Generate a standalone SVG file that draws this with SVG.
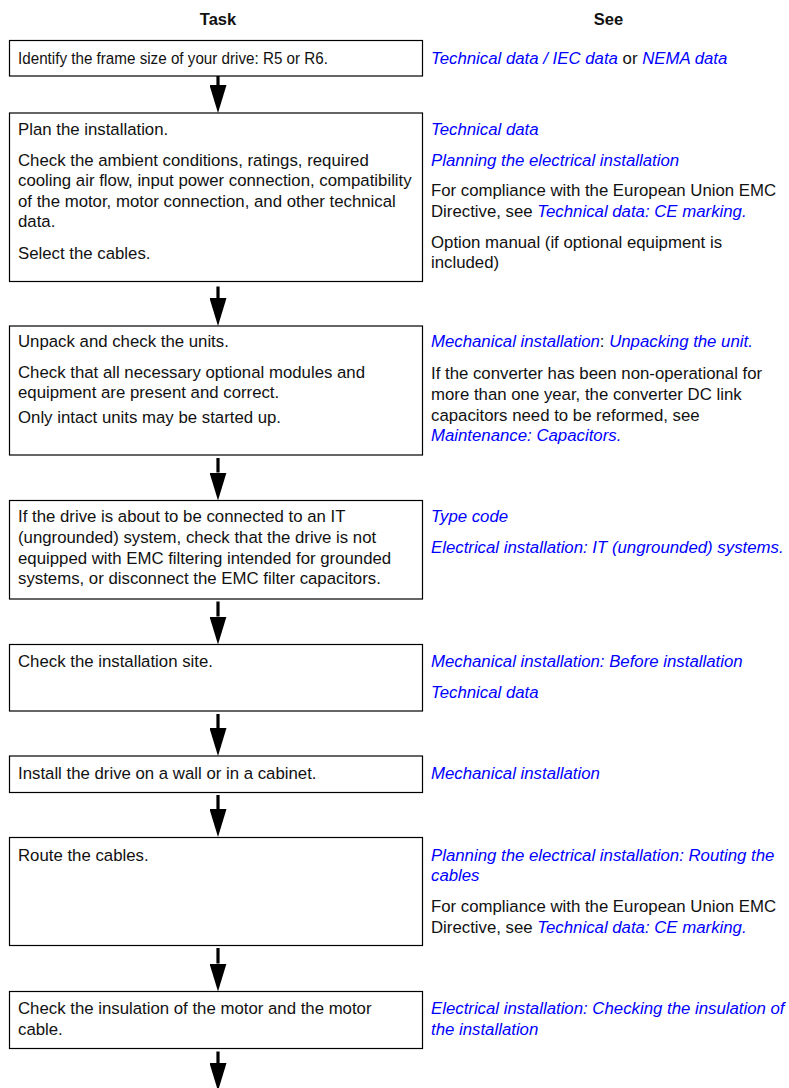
<svg xmlns="http://www.w3.org/2000/svg" width="789" height="1088" viewBox="0 0 789 1088">
<style>
text{font-family:"Liberation Sans",Arial,sans-serif;font-size:16.8px;fill:#111}
.h{font-weight:bold;font-size:16.5px;text-anchor:middle}
.l{fill:#0000ff;font-style:italic}
.box{fill:#fff;stroke:#000;stroke-width:1.2}
.arr{stroke:#000;stroke-width:3.2;fill:none;marker-end:url(#ah)}
</style>
<defs>
<marker id="ah" markerUnits="userSpaceOnUse" viewBox="0 0 28 17" markerWidth="28" markerHeight="17" refX="0" refY="8.5" orient="auto">
<path d="M0,0 L28,8.5 L0,17 z" fill="#000"/>
</marker>
</defs>
<rect width="789" height="1088" fill="#fff"/>
<g id="headers">
<text class="h" x="218" y="25">Task</text>
<text class="h" x="608.5" y="25">See</text>
</g>
<g id="connectors">
<line class="arr" x1="218" y1="76" x2="218" y2="85"/>
<line class="arr" x1="218" y1="286.5" x2="218" y2="298"/>
<line class="arr" x1="218" y1="458" x2="218" y2="472.5"/>
<line class="arr" x1="218" y1="601.5" x2="218" y2="616.5"/>
<line class="arr" x1="218" y1="714" x2="218" y2="728"/>
<line class="arr" x1="218" y1="795" x2="218" y2="809"/>
<line class="arr" x1="218" y1="948" x2="218" y2="963.5"/>
<line class="arr" x1="218" y1="1051.5" x2="218" y2="1063"/>
</g>
<g id="step1">
<rect class="box" x="9.5" y="40.5" width="413" height="35.5"/>
<text x="18" y="64" textLength="310" lengthAdjust="spacingAndGlyphs">Identify the frame size of your drive: R5 or R6.</text>
<text x="431" y="63.5"><tspan class="l">Technical data / IEC data</tspan> or <tspan class="l">NEMA data</tspan></text>
</g>
<g id="step2">
<rect class="box" x="9.5" y="113" width="413" height="168.5"/>
<text x="18" y="134.5">Plan the installation.</text>
<text x="18" y="165.5">Check the ambient conditions, ratings, required</text>
<text x="18" y="186">cooling air flow, input power connection, compatibility</text>
<text x="18" y="206.5">of the motor, motor connection, and other technical</text>
<text x="18" y="227">data.</text>
<text x="18" y="259">Select the cables.</text>
<text class="l" x="431" y="134.5">Technical data</text>
<text class="l" x="431" y="165.5">Planning the electrical installation</text>
<text x="431" y="196">For compliance with the European Union EMC</text>
<text x="431" y="216.5">Directive, see <tspan class="l">Technical data: CE marking.</tspan></text>
<text x="431" y="247.5">Option manual (if optional equipment is</text>
<text x="431" y="268">included)</text>
</g>
<g id="step3">
<rect class="box" x="9.5" y="326" width="413" height="129"/>
<text x="18" y="347">Unpack and check the units.</text>
<text x="18" y="377.5">Check that all necessary optional modules and</text>
<text x="18" y="398">equipment are present and correct.</text>
<text x="18" y="423">Only intact units may be started up.</text>
<text x="431" y="347"><tspan class="l">Mechanical installation</tspan>: <tspan class="l">Unpacking the unit.</tspan></text>
<text x="431" y="379">If the converter has been non-operational for</text>
<text x="431" y="400">more than one year, the converter DC link</text>
<text x="431" y="420.5">capacitors need to be reformed, see</text>
<text class="l" x="431" y="441">Maintenance: Capacitors.</text>
</g>
<g id="step4">
<rect class="box" x="9.5" y="500.5" width="413" height="98.5"/>
<text x="18" y="522">If the drive is about to be connected to an IT</text>
<text x="18" y="543">(ungrounded) system, check that the drive is not</text>
<text x="18" y="563.5">equipped with EMC filtering intended for grounded</text>
<text x="18" y="584">systems, or disconnect the EMC filter capacitors.</text>
<text class="l" x="431" y="522">Type code</text>
<text class="l" x="431" y="552.5">Electrical installation: IT (ungrounded) systems.</text>
</g>
<g id="step5">
<rect class="box" x="9.5" y="644.5" width="413" height="66.5"/>
<text x="18" y="667">Check the installation site.</text>
<text class="l" x="431" y="667">Mechanical installation: Before installation</text>
<text class="l" x="431" y="697.5">Technical data</text>
</g>
<g id="step6">
<rect class="box" x="9.5" y="756" width="413" height="36.5"/>
<text x="18" y="779">Install the drive on a wall or in a cabinet.</text>
<text class="l" x="431" y="779">Mechanical installation</text>
</g>
<g id="step7">
<rect class="box" x="9.5" y="837.5" width="413" height="108"/>
<text x="18" y="861">Route the cables.</text>
<text class="l" x="431" y="861">Planning the electrical installation: Routing the</text>
<text class="l" x="431" y="881">cables</text>
<text x="431" y="912">For compliance with the European Union EMC</text>
<text x="431" y="932.5">Directive, see <tspan class="l">Technical data: CE marking.</tspan></text>
</g>
<g id="step8">
<rect class="box" x="9.5" y="991.5" width="413" height="57"/>
<text x="18" y="1014">Check the insulation of the motor and the motor</text>
<text x="18" y="1034.5">cable.</text>
<text class="l" x="431" y="1014">Electrical installation: Checking the insulation of</text>
<text class="l" x="431" y="1034.5">the installation</text>
</g>
</svg>
